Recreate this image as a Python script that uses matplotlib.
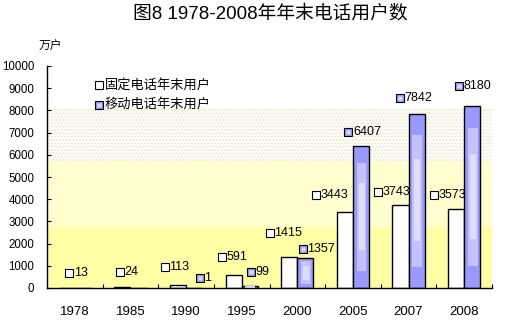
import matplotlib
matplotlib.use('Agg')
import matplotlib.pyplot as plt
import numpy as np

plt.rcParams['font.family'] = ['Liberation Sans', 'Noto Sans CJK SC', 'DejaVu Sans']

# ---------------- data ----------------
years = ['1978', '1985', '1990', '1995', '2000', '2005', '2007', '2008']
fixed = [13, 24, 113, 591, 1415, 3443, 3743, 3573]
mobile = [0, 0, 1, 99, 1357, 6407, 7842, 8180]
mobile_labels = [None, None, '1', '99', '1357', '6407', '7842', '8180']
title = '图8 1978-2008年年末电话用户数'
unit = '万户'
series_names = ['固定电话年末用户', '移动电话年末用户']
yticks = list(range(0, 10001, 1000))

# label placement (px offset of marker from group centre, label height in data units)
fixed_lab_dx = [-9, -14, -25, -23, -31, -40, -34, -34]
fixed_lab_y = [662, 734, 932, 1383, 2464, 4189, 4338, 4189]
mobile_lab_dx = [0, 0, 10, 6, 2, -8, -12, -9]
mobile_lab_y = [0, 0, 437, 707, 1757, 7014, 8572, 9099]

# ---------------- style ----------------
BLUE = '#9999FF'
BLUE_IN = '#C2C2FF'
BLUE_C = '#DEDEF6'
Y1 = '#FFFFA6'
Y2 = '#FFFFCF'

fig = plt.figure(figsize=(5.08, 3.25), dpi=100)
ax = fig.add_axes([47 / 508, 37 / 325, 445 / 508, 222 / 325])

x = np.arange(len(years))
bw = 0.29

# background bands
ax.axhspan(0, 2750, facecolor=Y1, edgecolor='none', zorder=0)
ax.axhspan(2750, 5700, facecolor=Y2, edgecolor='none', zorder=0)
ax.axhspan(5700, 8100, facecolor='#FFFFFA', edgecolor='#EEE6D0', hatch='.....',
           linewidth=0, zorder=0)

# bars
ax.bar(x - bw / 2, fixed, width=bw, color='white', edgecolor='black', linewidth=1, zorder=2)
mob = np.array(mobile, dtype=float)
ax.bar(x + bw / 2, mob, width=bw, color=BLUE, edgecolor='black', linewidth=1, zorder=2)
ax.bar(x + bw / 2 + 0.01, mob * 0.76, bottom=mob * 0.12, width=bw * 0.61,
       color=BLUE_IN, linewidth=0, zorder=3)
ax.bar(x + bw / 2 + 0.012, mob * 0.47, bottom=mob * 0.27, width=bw * 0.39,
       color=BLUE_C, linewidth=0, zorder=4)

# data labels
px2pt = 72 / 100
ST = matplotlib.transforms.ScaledTranslation
for i in range(len(years)):
    tr = ax.transData + ST((fixed_lab_dx[i] + 3.5) / 100, 0, fig.dpi_scale_trans)
    ax.plot([x[i]], [fixed_lab_y[i]], marker='s', markersize=5.5, mfc='white', mec='black',
            mew=0.8, transform=tr, zorder=6, clip_on=False, ls='none')
    ax.annotate(str(fixed[i]), xy=(x[i], fixed_lab_y[i]),
                xytext=((fixed_lab_dx[i] + 8) * px2pt, 0), textcoords='offset points',
                ha='left', va='center', fontsize=9, zorder=6)
    if mobile_labels[i] is not None:
        tr = ax.transData + ST((mobile_lab_dx[i] + 3.5) / 100, 0, fig.dpi_scale_trans)
        ax.plot([x[i]], [mobile_lab_y[i]], marker='s', markersize=5.5, mfc=BLUE, mec='black',
                mew=0.8, transform=tr, zorder=6, clip_on=False, ls='none')
        ax.plot([x[i]], [mobile_lab_y[i]], marker='s', markersize=2.5, mfc=BLUE_C, mec='none',
                transform=tr, zorder=7, clip_on=False, ls='none')
        ax.annotate(mobile_labels[i], xy=(x[i], mobile_lab_y[i]),
                    xytext=((mobile_lab_dx[i] + 8) * px2pt, 0), textcoords='offset points',
                    ha='left', va='center', fontsize=9, zorder=6)

# legend (manual)
leg_y = [0.914, 0.826]
ax.plot([0.117], [leg_y[0]], marker='s', markersize=5.5, mfc='white', mec='black', mew=0.8,
        transform=ax.transAxes, ls='none', zorder=6)
ax.plot([0.117], [leg_y[1]], marker='s', markersize=5.5, mfc=BLUE, mec='black', mew=0.8,
        transform=ax.transAxes, ls='none', zorder=6)
ax.plot([0.117], [leg_y[1]], marker='s', markersize=2.5, mfc=BLUE_C, mec='none',
        transform=ax.transAxes, ls='none', zorder=7)
for yy, name in zip(leg_y, series_names):
    ax.text(0.13, yy, name, transform=ax.transAxes, ha='left', va='center', fontsize=9.5,
            zorder=6)

# axes
ax.set_xlim(-0.5, len(years) - 0.5)
ax.set_ylim(0, 10000)
ax.set_yticks(yticks)
ax.set_yticklabels([str(v) for v in yticks], fontsize=8.3)
ax.tick_params(axis='y', direction='in', length=3, width=0.8, pad=9)
ax.set_xticks(np.arange(0.5, len(years), 1))
ax.set_xticklabels([])
ax.tick_params(axis='x', which='major', direction='in', length=3, width=0.8)
ax.set_xticks(x, minor=True)
ax.set_xticklabels(years, minor=True, fontsize=9.5)
ax.tick_params(axis='x', which='minor', length=0, pad=13)
for s in ['top', 'right']:
    ax.spines[s].set_visible(False)
for s in ['left', 'bottom']:
    ax.spines[s].set_linewidth(1)

fig.text(270 / 508, 1 - 14 / 325, title, ha='center', va='center', fontsize=13.5)
fig.text(50 / 508, 1 - 47 / 325, unit, ha='center', va='center', fontsize=8.5)

fig.savefig('out.png', dpi=100)
